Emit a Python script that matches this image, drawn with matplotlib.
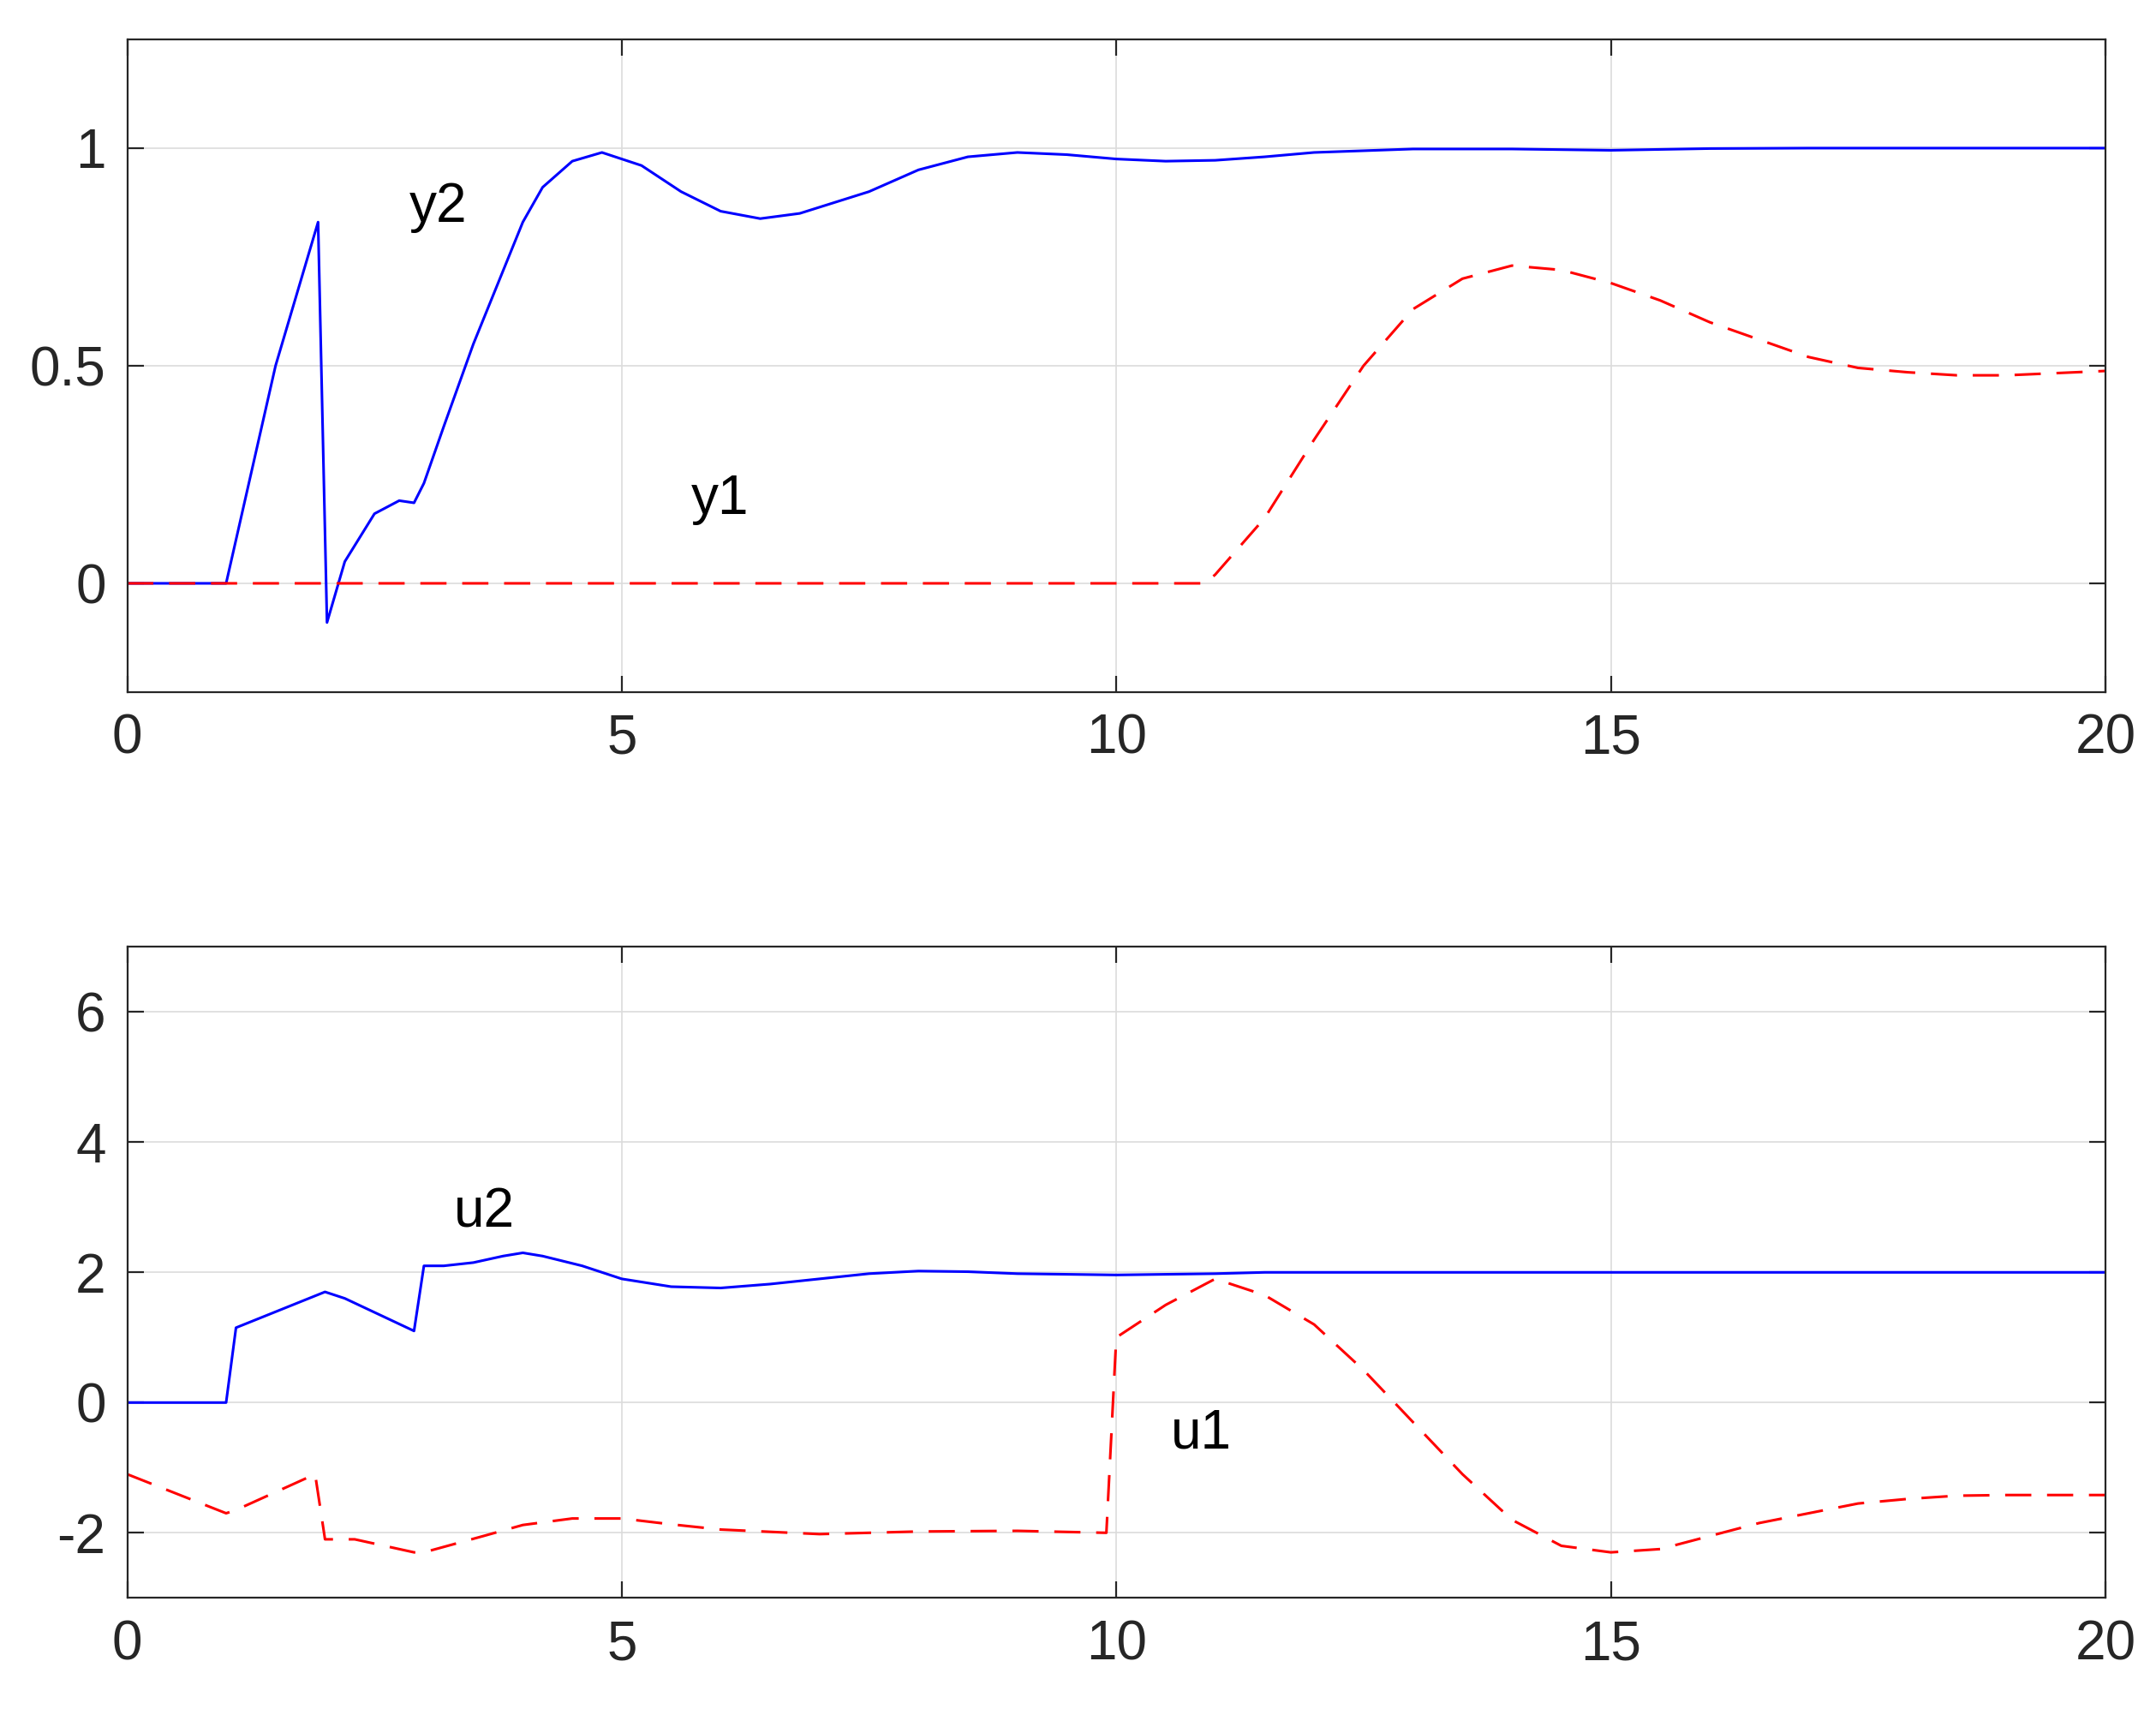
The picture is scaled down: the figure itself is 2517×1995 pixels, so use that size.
import matplotlib
matplotlib.use("Agg")
import matplotlib.pyplot as plt

plt.rcParams['font.family'] = ['Liberation Sans', 'DejaVu Sans']
plt.rcParams['axes.unicode_minus'] = False

# outputs
t_y2 = [0, 1, 1.1, 1.5, 1.93, 2.02, 2.2, 2.5, 2.75, 2.9, 3.0, 3.2, 3.5, 4.0, 4.2, 4.5, 4.8, 5.2, 5.6, 6.0, 6.4,
        6.8, 7.5, 8.0, 8.5, 9.0, 9.5, 10.0, 10.5, 11.0, 11.5, 12.0, 13.0, 14.0, 15.0, 16.0, 17.0, 20.0]
y2 = [0, 0, 0.1, 0.5, 0.83, -0.09, 0.05, 0.16, 0.19, 0.185, 0.23, 0.36, 0.55, 0.83, 0.91, 0.97, 0.99, 0.96, 0.9,
      0.855, 0.838, 0.85, 0.9, 0.95, 0.98, 0.99, 0.985, 0.975, 0.97, 0.972, 0.98, 0.99, 0.998, 0.998, 0.995,
      0.999, 1.0, 1.0]
t_y1 = [0, 10.9, 11, 11.5, 12, 12.5, 13, 13.5, 14, 14.5, 15, 15.5, 16, 16.5, 17, 17.5, 18, 18.5, 19, 20]
y1 = [0, 0, 0.02, 0.15, 0.33, 0.5, 0.63, 0.7, 0.73, 0.72, 0.69, 0.65, 0.6, 0.56, 0.52, 0.495, 0.485, 0.478,
      0.478, 0.488]

# inputs
t_u2 = [0, 1, 1.1, 2, 2.2, 2.9, 3.0, 3.2, 3.5, 3.8, 4.0, 4.2, 4.6, 5, 5.5, 6, 6.5, 7, 7.5, 8, 8.5, 9, 10, 11,
        11.5, 20]
u2 = [0, 0, 1.15, 1.7, 1.6, 1.1, 2.1, 2.1, 2.15, 2.25, 2.3, 2.25, 2.1, 1.9, 1.78, 1.76, 1.82, 1.9, 1.98, 2.02,
      2.01, 1.98, 1.96, 1.98, 2.0, 2.0]
t_u1 = [0, 1, 1.1, 1.9, 2.0, 2.3, 2.9, 3, 3.6, 4, 4.5, 5, 5.5, 6, 7, 8, 9, 9.9, 10.0, 10.5, 11, 11.5, 12, 12.5,
        13, 13.5, 14, 14.5, 15, 15.5, 16, 16.5, 17, 17.5, 18, 18.5, 19, 20]
u1 = [-1.1, -1.7, -1.65, -1.1, -2.1, -2.1, -2.3, -2.3, -2.05, -1.88, -1.78, -1.78, -1.87, -1.95, -2.02, -1.98,
      -1.97, -2.0, 1.0, 1.5, 1.9, 1.65, 1.2, 0.5, -0.3, -1.1, -1.8, -2.2, -2.3, -2.25, -2.05, -1.85, -1.7,
      -1.55, -1.48, -1.43, -1.42, -1.42]

fig = plt.figure(figsize=(25.17, 19.95), dpi=100)
ax1 = fig.add_axes([0.059, 0.595, 0.9175, 0.382])
ax2 = fig.add_axes([0.059, 0.065, 0.9175, 0.381])

fs = 46
for ax in (ax1, ax2):
    ax.set_xlim(0, 20)
    ax.set_xticks([0, 5, 10, 15, 20])
    ax.grid(True, color='#dcdcdc', linewidth=1.2)
    ax.tick_params(direction='in', length=14, width=1.6, labelsize=fs, top=True, right=True, pad=18,
                   colors='#262626')
    for s in ax.spines.values():
        s.set_linewidth(1.6)
        s.set_color('#262626')

ax1.plot(t_y2, y2, color='blue', lw=2.2)
ax1.plot(t_y1, y1, color='red', lw=2.2, dashes=(10, 6))
ax1.set_ylim(-0.25, 1.25)
ax1.set_yticks([0, 0.5, 1])
ax1.set_yticklabels(['0', '0.5', '1'])
ax1.text(2.85, 0.83, 'y2', fontsize=fs)
ax1.text(5.7, 0.16, 'y1', fontsize=fs)

ax2.plot(t_u2, u2, color='blue', lw=2.2)
ax2.plot(t_u1, u1, color='red', lw=2.2, dashes=(10, 6))
ax2.set_ylim(-3, 7)
ax2.set_yticks([-2, 0, 2, 4, 6])
ax2.text(3.3, 2.7, 'u2', fontsize=fs)
ax2.text(10.55, -0.7, 'u1', fontsize=fs)

fig.savefig('out.png')
